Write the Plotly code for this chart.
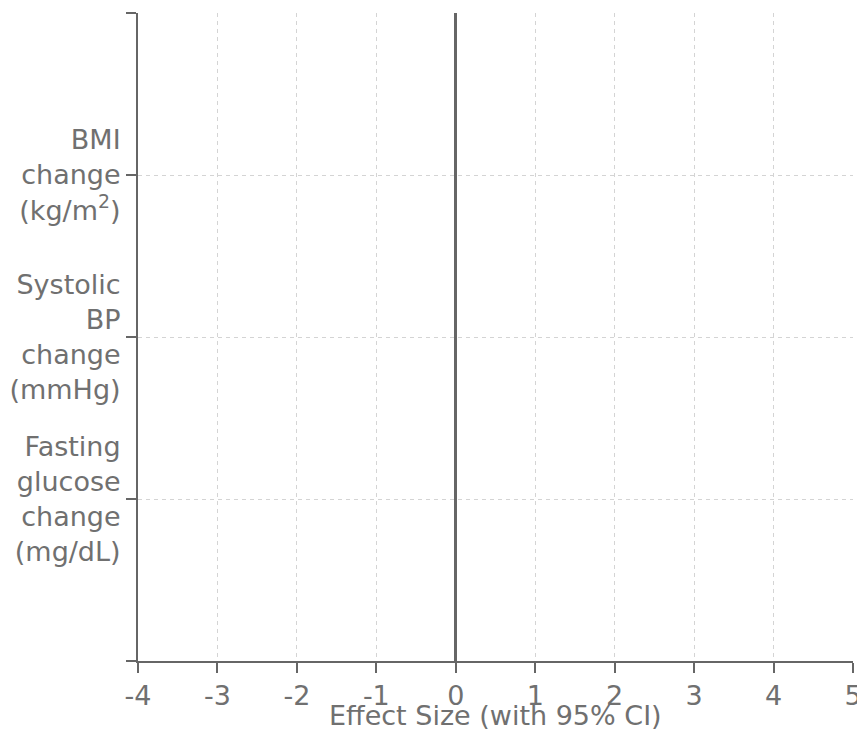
import plotly.graph_objects as go

# Data
categories = [
    "BMI<br>change<br>(kg/m<sup>2</sup>)",
    "Systolic<br>BP<br>change<br>(mmHg)",
    "Fasting<br>glucose<br>change<br>(mg/dL)",
]
category_positions = [1, 2, 3]
effect_sizes = [None, None, None]
x_ticks = [-4, -3, -2, -1, 0, 1, 2, 3, 4, 5]
x_title = "Effect Size (with 95% CI)"

font_color = "#707070"
font_family = "DejaVu Sans, sans-serif"
fs = 27

fig = go.Figure()
fig.add_trace(go.Scatter(
    x=effect_sizes, y=category_positions, mode="markers",
    marker=dict(color="#444", size=10), showlegend=False, hoverinfo="skip",
))

fig.update_layout(
    width=857, height=730,
    margin=dict(l=138, r=4, t=13, b=69, autoexpand=False),
    plot_bgcolor="white", paper_bgcolor="white",
    font=dict(family=font_family, size=fs, color=font_color),
    showlegend=False,
)

fig.update_xaxes(
    range=[-4, 5], tickvals=x_ticks, ticktext=[str(v) for v in x_ticks],
    showline=True, linecolor="#666", linewidth=2,
    ticks="outside", ticklen=10, tickwidth=2, tickcolor="#666",
    showgrid=True, gridcolor="#d4d4d4", gridwidth=1, griddash="4px,4px",
    zeroline=True, zerolinecolor="#666", zerolinewidth=3,
    tickfont=dict(size=fs, color=font_color),
    ticklabeloverflow="allow", automargin=False,
)

fig.update_yaxes(
    range=[4, 0], tickvals=[0] + category_positions + [4],
    ticktext=[""] + categories + [""],
    showline=True, linecolor="#666", linewidth=2,
    ticks="outside", ticklen=10, tickwidth=2, tickcolor="#666",
    showgrid=True, gridcolor="#d4d4d4", gridwidth=1, griddash="4px,4px",
    zeroline=False,
    tickfont=dict(size=fs, color=font_color),
    ticklabeloverflow="allow", automargin=False,
)

fig.add_annotation(
    text=x_title, xref="paper", yref="paper", x=0.5, y=-0.0835,
    xanchor="center", yanchor="middle", showarrow=False,
    font=dict(size=fs, color=font_color),
)

fig.write_html("out.html")
